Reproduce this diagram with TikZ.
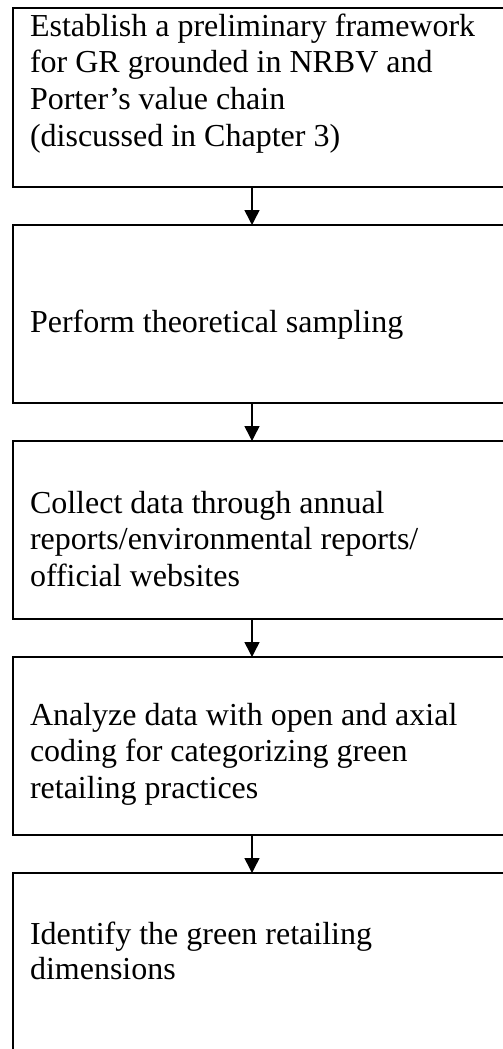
\documentclass[tikz,border=0pt]{standalone}
\usepackage{fontspec}
\setmainfont{Liberation Serif}
\usetikzlibrary{arrows.meta}
\tikzset{
  stepbox/.style={draw, line width=1.8pt, rectangle, anchor=north west,
    minimum width=520pt, inner sep=0pt, outer sep=0pt},
  steptext/.style={anchor=north west, inner sep=0pt, outer sep=0pt, align=left,
    font=\fontsize{32}{36.8}\selectfont},
  flow/.style={-{Triangle[width=15pt,length=15pt]}, line width=1.5pt},
}
\newcommand{\firststrut}{\rule{0pt}{25pt}}
\begin{document}
\begin{tikzpicture}[x=1pt,y=-1pt]
\useasboundingbox (0,0) rectangle (503,1049);
\fill[white] (0,0) rectangle (503,1049);
\clip (0,0) rectangle (503,1049);
% boxes
\node[stepbox, minimum height=179pt] (b1) at (13,8) {};
\node[stepbox, minimum height=178pt] (b2) at (13,225) {};
\node[stepbox, minimum height=178pt] (b3) at (13,441) {};
\node[stepbox, minimum height=178pt] (b4) at (13,657) {};
\node[stepbox, minimum height=200pt] (b5) at (13,873) {};
% texts (first baseline = y + 25)
\node[steptext] (t1) at (30,11) {\firststrut Establish a preliminary framework\\for GR grounded in NRBV and\\Porter’s value chain\\(discussed in Chapter 3)};
\node[steptext] (t2) at (30,307) {\firststrut Perform theoretical sampling};
\node[steptext] (t3) at (30,488) {\firststrut Collect data through annual\\reports/environmental reports/\\official websites};
\node[steptext] (t4) at (30,700) {\firststrut Analyze data with open and axial\\coding for categorizing green\\retailing practices};
\node[steptext, font=\fontsize{32}{35}\selectfont] (t5) at (30,919) {\firststrut Identify the green retailing\\dimensions};
% connectors
\coordinate (ax) at (252,0);
\draw[flow] (b1.south -| ax) -- (b2.north -| ax);
\draw[flow] (b2.south -| ax) -- (b3.north -| ax);
\draw[flow] (b3.south -| ax) -- (b4.north -| ax);
\draw[flow] (b4.south -| ax) -- (b5.north -| ax);
\end{tikzpicture}
\end{document}
